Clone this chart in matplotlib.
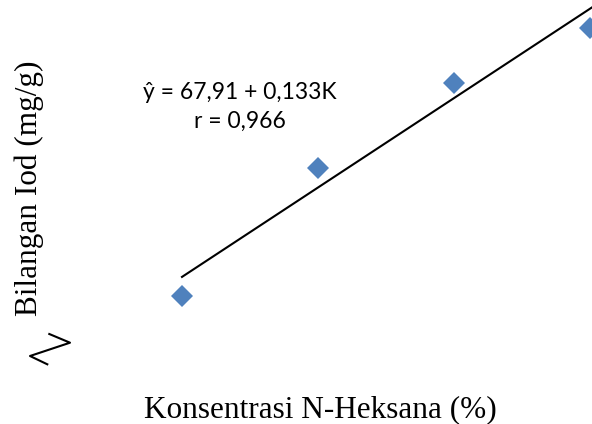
import numpy as np
import matplotlib
matplotlib.use("Agg")
import matplotlib.pyplot as plt
from matplotlib.lines import Line2D

# N-hexane concentration (%) vs iodine value (mg/g)
konsentrasi = [0, 10, 20, 30]
bilangan_iod = [67.63, 69.53, 70.80, 71.61]

# regression as printed on the chart
intercept = 67.91
slope = 0.133
r_value = 0.966

W, H = 592, 424
fig = plt.figure(figsize=(W / 100, H / 100), dpi=100)

# plot area has no visible frame; right side runs off the figure edge
ax = fig.add_axes([100 / W, 94 / H, 492 / W, 330 / H])
ax.set_xlim(-6.03, 30.15)
ax.set_ylim(67.12, 72.03)
ax.axis("off")

ax.plot(konsentrasi, bilangan_iod, linestyle="none", marker="D",
        markersize=11, markeredgewidth=0, color="#4F81BD", zorder=3)

xfit = np.array([0, 31])
ax.plot(xfit, intercept + slope * xfit, color="black", lw=1.5, zorder=2)

def koma(v, nd):
    return f"{v:.{nd}f}".replace(".", ",")

eq_font = dict(fontsize=16.5, family=["Lato", "DejaVu Sans"], ha="center",
               va="baseline")
fig.text(240 / W, 1 - 99 / H, f"ŷ = {koma(intercept, 2)} + {koma(slope, 3)}K",
         **eq_font)
fig.text(240 / W, 1 - 128 / H, f"r = {koma(r_value, 3)}", **eq_font)

# axis titles
fig.text(320 / W, 1 - 417 / H, "Konsentrasi N-Heksana (%)", ha="center",
         va="baseline", fontsize=22.5, family="Liberation Serif")
fig.text(29 / W, 1 - 188 / H, "Bilangan Iod (mg/g)", ha="center",
         va="center", rotation=90, fontsize=22.5, family="Liberation Serif")

# axis break mark at the lower left
zx = np.array([49.3, 70, 30, 47.3])
zy = np.array([334, 342.7, 356, 364.3])
fig.add_artist(Line2D(zx / W, 1 - zy / H, color="black", lw=1.5))

fig.savefig("out.png", dpi=100)
